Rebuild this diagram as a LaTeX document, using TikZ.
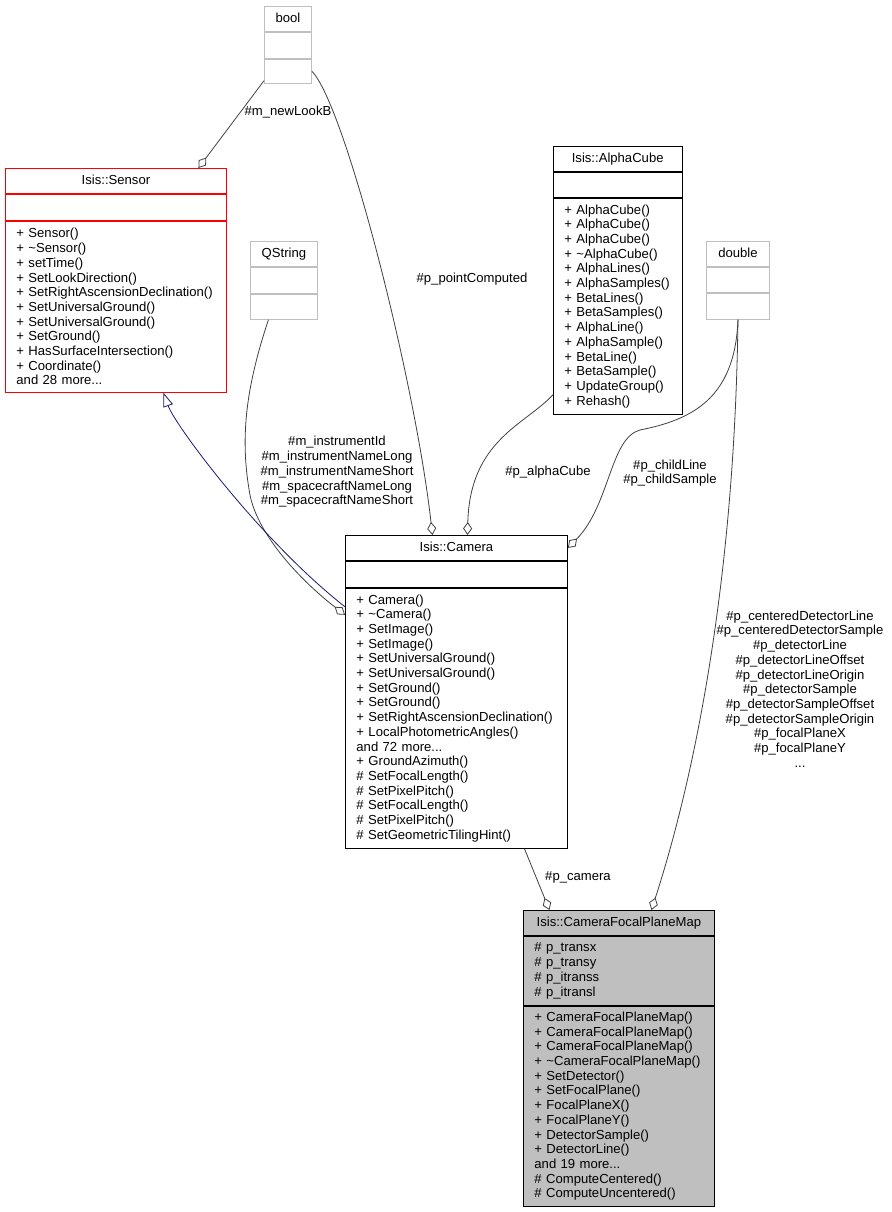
\documentclass[tikz,border=0pt]{standalone}
\usepackage{fontspec}
\setmainfont{Liberation Sans}
\usepackage{xcolor}
\usetikzlibrary{positioning,arrows.meta}

\definecolor{edgegray}{HTML}{404040}
\definecolor{boxgray}{HTML}{BFBFBF}
\definecolor{inhblue}{HTML}{191970}
\newcommand{\umlsize}{\fontsize{13.1}{14.7}\selectfont\hyphenpenalty=10000}

\begin{document}
\begin{tikzpicture}[x=1pt, y=-1pt, font=\umlsize,
    classbox/.style={draw, line width=0.9pt, inner sep=0pt},
    classhead/.style={classbox, minimum height=25pt, text height=10pt, text depth=3pt, anchor=north west},
    classbody/.style={classbox, inner xsep=11pt, inner ysep=0pt, align=left},
    extclass/.style={draw=boxgray},
    member/.style={draw=edgegray, line width=0.8pt, -{Diamond[open, length=13pt, width=9pt]}},
    inherit/.style={draw=inhblue, line width=0.8pt, -{Triangle[open, length=14pt, width=10pt]}},
    elabel/.style={align=center, inner sep=0pt}]

    \useasboundingbox (0,0) rectangle (891,1212);

    % plain types
    \node[classhead, extclass, minimum width=47pt] (bool) at (264,6) {bool};
    \node[classbox, extclass, minimum width=47pt, minimum height=26pt, below=0pt of bool] (boolattr) {};
    \node[classbox, extclass, minimum width=47pt, minimum height=24pt, below=0pt of boolattr] (boolops) {};

    \node[classhead, extclass, minimum width=67pt] (qstr) at (250,241) {QString};
    \node[classbox, extclass, minimum width=67pt, minimum height=26pt, below=0pt of qstr] (qstrattr) {};
    \node[classbox, extclass, minimum width=67pt, minimum height=25pt, below=0pt of qstrattr] (qstrops) {};

    \node[classhead, extclass, minimum width=63pt] (double) at (706,241) {double};
    \node[classbox, extclass, minimum width=63pt, minimum height=25pt, below=0pt of double] (doubleattr) {};
    \node[classbox, extclass, minimum width=63pt, minimum height=26pt, below=0pt of doubleattr] (doubleops) {};

    % Isis classes
    \node[classhead, draw=red, minimum width=221pt] (sensor) at (5,168) {Isis::Sensor};
    \node[classbox, draw=red, minimum width=221pt, minimum height=26pt, below=0pt of sensor] (sensorattr) {};
    \node[classbody, draw=red, text width=199pt, minimum height=171pt, below=0pt of sensorattr] (sensorops)
        {+~Sensor()\\+~\textasciitilde Sensor()\\+~setTime()\\+~SetLookDirection()\\
         +~SetRightAscensionDeclination()\\+~SetUniversalGround()\\+~SetUniversalGround()\\
         +~SetGround()\\+~HasSurfaceIntersection()\\+~Coordinate()\\and 28 more...};

    \node[classhead, minimum width=128.5pt] (alpha) at (553,146) {Isis::AlphaCube};
    \node[classbox, minimum width=128.5pt, minimum height=25pt, below=0pt of alpha] (alphaattr) {};
    \node[classbody, text width=106.5pt, minimum height=216pt, below=0pt of alphaattr] (alphaops)
        {+~AlphaCube()\\+~AlphaCube()\\+~AlphaCube()\\+~\textasciitilde AlphaCube()\\+~AlphaLines()\\
         +~AlphaSamples()\\+~BetaLines()\\+~BetaSamples()\\+~AlphaLine()\\+~AlphaSample()\\
         +~BetaLine()\\+~BetaSample()\\+~UpdateGroup()\\+~Rehash()};

    \node[classhead, minimum width=222pt] (camera) at (345,535) {Isis::Camera};
    \node[classbox, minimum width=222pt, minimum height=26pt, below=0pt of camera] (camattr) {};
    \node[classbody, text width=200pt, minimum height=260pt, below=0pt of camattr] (camops)
        {+~Camera()\\+~\textasciitilde Camera()\\+~SetImage()\\+~SetImage()\\+~SetUniversalGround()\\
         +~SetUniversalGround()\\+~SetGround()\\+~SetGround()\\+~SetRightAscensionDeclination()\\
         +~LocalPhotometricAngles()\\and 72 more...\\+~GroundAzimuth()\\\#~SetFocalLength()\\
         \#~SetPixelPitch()\\\#~SetFocalLength()\\\#~SetPixelPitch()\\\#~SetGeometricTilingHint()};

    \node[classhead, fill=boxgray, minimum width=191pt] (cfpm) at (523,910) {Isis::CameraFocalPlaneMap};
    \node[classbody, fill=boxgray, text width=169pt, minimum height=69pt, below=0pt of cfpm] (cfpmattr)
        {\#~p\_transx\\\#~p\_transy\\\#~p\_itranss\\\#~p\_itransl};
    \node[classbody, fill=boxgray, text width=169pt, minimum height=200pt, below=0pt of cfpmattr] (cfpmops)
        {+~CameraFocalPlaneMap()\\+~CameraFocalPlaneMap()\\+~CameraFocalPlaneMap()\\
         +~\textasciitilde CameraFocalPlaneMap()\\+~SetDetector()\\+~SetFocalPlane()\\+~FocalPlaneX()\\
         +~FocalPlaneY()\\+~DetectorSample()\\+~DetectorLine()\\and 19 more...\\
         \#~ComputeCentered()\\\#~ComputeUncentered()};

    % connectors
    \draw[member] ([yshift=3pt]boolops.south west) -- ([xshift=82.5pt]sensor.north);
    \draw[member] (boolops.east) .. controls (345,105) and (415,380) .. ([xshift=-24pt]camera.north);
    \draw[member] ([yshift=20pt]alphaops.south west) .. controls (525,425) and (470,440) .. ([xshift=11pt]camera.north);
    \draw[member] (doubleops.south) .. controls (735,400) and (690,420) .. (640,430)
        .. controls (610,438) and (610,505) .. (camera.east);
    \draw[member] ([xshift=-15.5pt]qstrops.south) .. controls (245,390) and (240,440) .. (250,495)
        .. controls (258,535) and (300,580) .. ([yshift=-27pt]camops.north west);
    \draw[inherit] ([yshift=-19pt]camops.north west) .. controls (260,540) and (175,425) .. ([xshift=47.5pt]sensorops.south);
    \draw[member] ([xshift=68pt]camops.south) -- ([xshift=-69.5pt]cfpm.north);
    \draw[member] (doubleops.south) .. controls (735,560) and (700,760) .. ([xshift=32.5pt]cfpm.north);

    % labels
    \node[elabel] (lnewlook) at (288,112) {\#m\_newLookB};
    \node[elabel] (lpoint) at (472,279) {\#p\_pointComputed};
    \node[elabel] (linstr) at (337,472)
        {\#m\_instrumentId\\\#m\_instrumentNameLong\\\#m\_instrumentNameShort\\
         \#m\_spacecraftNameLong\\\#m\_spacecraftNameShort};
    \node[elabel] (lalpha) at (548,472) {\#p\_alphaCube};
    \node[elabel] (lchild) at (670,473) {\#p\_childLine\\\#p\_childSample};
    \node[elabel] (lcamera) at (578,877) {\#p\_camera};
    \node[elabel] (ldetector) at (800,689)
        {\#p\_centeredDetectorLine\\\#p\_centeredDetectorSample\\\#p\_detectorLine\\
         \#p\_detectorLineOffset\\\#p\_detectorLineOrigin\\\#p\_detectorSample\\
         \#p\_detectorSampleOffset\\\#p\_detectorSampleOrigin\\\#p\_focalPlaneX\\
         \#p\_focalPlaneY\\...};
\end{tikzpicture}
\end{document}
